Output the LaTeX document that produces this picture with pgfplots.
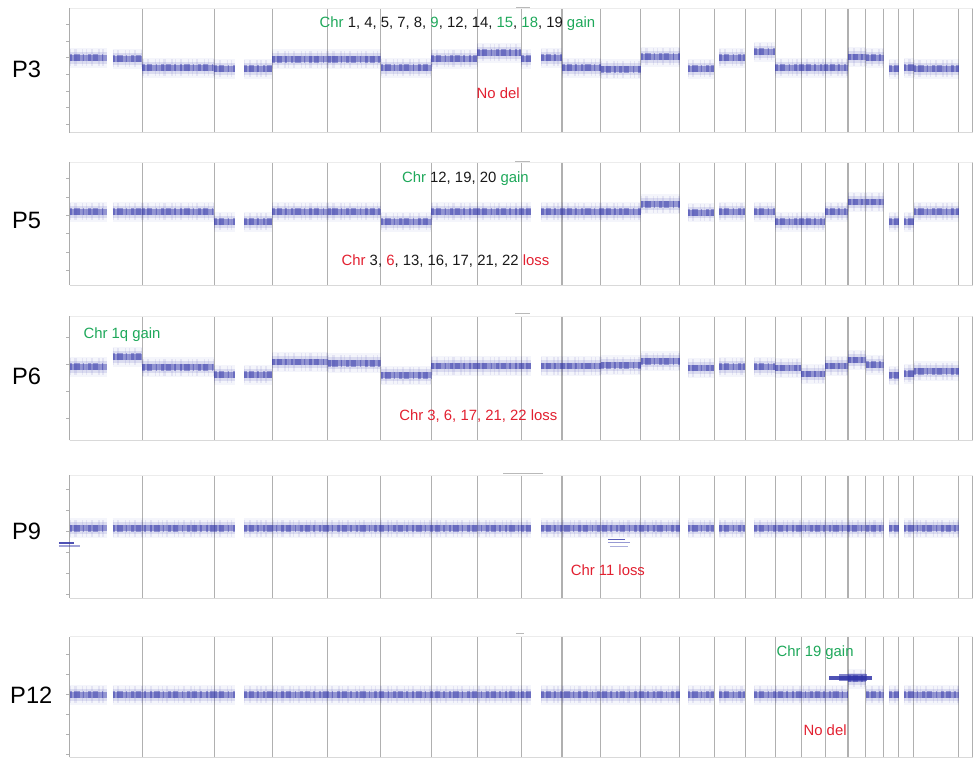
\documentclass[border=0pt]{standalone}
\usepackage{fontspec}
\setmainfont{Liberation Sans}
\usepackage{pgfplots}
\pgfplotsset{compat=1.18}
\usepackage{pgfplotstable}
\definecolor{cnv}{RGB}{48,52,168}
\definecolor{gn}{RGB}{30,168,90}
\definecolor{rd}{RGB}{226,32,48}
\definecolor{tx}{RGB}{25,25,25}

% segment tables: x (relative genome position), y (log ratio level); nan = gap
\pgfplotstableread{
x y
0 0.0
37 0.0
nan nan
43 -0.05
73 -0.05
nan nan
73 -0.6
145 -0.6
nan nan
145 -0.65
166 -0.65
nan nan
175 -0.65
203 -0.65
nan nan
203 -0.1
259 -0.1
nan nan
259 -0.1
312 -0.1
nan nan
312 -0.6
363 -0.6
nan nan
363 -0.05
409 -0.05
nan nan
409 0.3
453 0.3
nan nan
453 -0.05
463 -0.05
nan nan
473 0.0
494 0.0
nan nan
494 -0.6
533 -0.6
nan nan
533 -0.7
573 -0.7
nan nan
573 0.06
612 0.06
nan nan
620 -0.65
647 -0.65
nan nan
652 0.0
678 0.0
nan nan
687 0.36
708 0.36
nan nan
708 -0.6
734 -0.6
nan nan
734 -0.6
758 -0.6
nan nan
758 -0.6
781 -0.6
nan nan
781 0.05
799 0.05
nan nan
799 0.0
817 0.0
nan nan
822 -0.65
832 -0.65
nan nan
837 -0.6
847 -0.6
nan nan
847 -0.65
892 -0.65
}\Pthree

\pgfplotstableread{
x y
0 0.2
37 0.2
nan nan
43 0.2
73 0.2
nan nan
73 0.2
145 0.2
nan nan
145 -0.35
166 -0.35
nan nan
175 -0.35
203 -0.35
nan nan
203 0.2
259 0.2
nan nan
259 0.2
312 0.2
nan nan
312 -0.35
363 -0.35
nan nan
363 0.2
409 0.2
nan nan
409 0.2
453 0.2
nan nan
453 0.2
463 0.2
nan nan
473 0.2
494 0.2
nan nan
494 0.2
533 0.2
nan nan
533 0.2
573 0.2
nan nan
573 0.6
612 0.6
nan nan
620 0.15
647 0.15
nan nan
652 0.2
678 0.2
nan nan
687 0.2
708 0.2
nan nan
708 -0.35
734 -0.35
nan nan
734 -0.35
758 -0.35
nan nan
758 0.2
781 0.2
nan nan
781 0.72
799 0.72
nan nan
799 0.72
817 0.72
nan nan
822 -0.35
832 -0.35
nan nan
837 -0.35
847 -0.35
nan nan
847 0.2
892 0.2
}\Pfive

\pgfplotstableread{
x y
0 -0.07
37 -0.07
nan nan
43 0.3
73 0.3
nan nan
73 -0.1
145 -0.1
nan nan
145 -0.37
166 -0.37
nan nan
175 -0.37
203 -0.37
nan nan
203 0.1
259 0.1
nan nan
259 0.05
312 0.05
nan nan
312 -0.4
363 -0.4
nan nan
363 -0.05
409 -0.05
nan nan
409 -0.05
453 -0.05
nan nan
453 -0.05
463 -0.05
nan nan
473 -0.05
494 -0.05
nan nan
494 -0.05
533 -0.05
nan nan
533 -0.02
573 -0.02
nan nan
573 0.12
612 0.12
nan nan
620 -0.12
647 -0.12
nan nan
652 -0.07
678 -0.07
nan nan
687 -0.07
708 -0.07
nan nan
708 -0.12
734 -0.12
nan nan
734 -0.35
758 -0.35
nan nan
758 -0.05
781 -0.05
nan nan
781 0.17
799 0.17
nan nan
799 0.0
817 0.0
nan nan
822 -0.4
832 -0.4
nan nan
837 -0.33
847 -0.33
nan nan
847 -0.25
892 -0.25
}\Psix

\pgfplotstableread{
x y
0 0.14
37 0.14
nan nan
43 0.14
145 0.14
nan nan
145 0.14
166 0.14
nan nan
175 0.14
453 0.14
nan nan
453 0.14
463 0.14
nan nan
473 0.14
612 0.14
nan nan
620 0.14
647 0.14
nan nan
652 0.14
678 0.14
nan nan
687 0.14
817 0.14
nan nan
822 0.14
832 0.14
nan nan
837 0.14
892 0.14
}\Pnine

\pgfplotstableread{
x y
0 0.0
37 0.0
nan nan
43 0.0
145 0.0
nan nan
145 0.0
166 0.0
nan nan
175 0.0
453 0.0
nan nan
453 0.0
463 0.0
nan nan
473 0.0
612 0.0
nan nan
620 0.0
647 0.0
nan nan
652 0.0
678 0.0
nan nan
687 0.0
781 0.0
nan nan
781 0.8
799 0.8
nan nan
799 0.0
817 0.0
nan nan
822 0.0
832 0.0
nan nan
837 0.0
892 0.0
}\Ptwelve

\pgfplotsset{
 panel/.style={
  scale only axis, width=679.5pt, xmin=0, xmax=906, anchor=north west,
  axis x line*=bottom, axis y line*=left,
  axis line style={-},
  x axis line style={draw=gray!30, line width=0.6pt},
  y axis line style={draw=gray!65, line width=0.85pt},
  xtick={0,73,145,203,259,312,363,409,453,494,533,573,612,647,678,708,734,758,781,799,817,832,847,892,906},
  xticklabels={}, xtick style={draw=none},
  xmajorgrids, major grid style={draw=gray!62, line width=0.8pt},
  yticklabels={}, ytick style={draw=gray!60, line width=0.5pt},
  tick align=outside, major tick length=2.5pt,
  unbounded coords=jump,
 },
 halo/.style={draw=cnv, line width=15pt, opacity=0.05},
 mid/.style={draw=cnv, line width=9pt, opacity=0.13},
 spikes/.style={draw=cnv, line width=13pt, opacity=0.09, dash pattern=on 0.8pt off 2.7pt on 1.6pt off 4.2pt on 1pt off 2pt},
 core/.style={draw=cnv, line width=4.5pt, opacity=0.42},
 clump/.style={draw=cnv, line width=5pt, opacity=0.42, dash pattern=on 2pt off 1.5pt on 4pt off 2.5pt on 1pt off 3pt},
}
\newcommand{\topline}{\draw[gray!15, line width=0.5pt] (rel axis cs:0,1) -- (rel axis cs:1,1);}
\newcommand{\band}[1]{%
\addplot[halo] table {#1};
\addplot[mid] table {#1};
\addplot[spikes] table {#1};
\addplot[core] table {#1};
\addplot[clump] table {#1};
}

\begin{document}
\begin{tikzpicture}
\path (0,0) rectangle (732.75pt,-571.5pt);

\begin{axis}[panel, at={(52.5pt,-6pt)}, height=93.75pt, ymin=-4.5, ymax=3, ytick={-4,...,2}]
\topline
\band{\Pthree}
\end{axis}

\begin{axis}[panel, at={(52.5pt,-122.25pt)}, height=92.25pt, ymin=-3.8, ymax=2.88, ytick={-3,...,2}]
\topline
\band{\Pfive}
\end{axis}

\begin{axis}[panel, at={(52.5pt,-237.75pt)}, height=93.75pt, ymin=-2.81, ymax=1.81, ytick={-2,...,1}]
\topline
\band{\Psix}
\end{axis}

\begin{axis}[panel, at={(52.5pt,-357.75pt)}, height=92.25pt, ymin=-3.19, ymax=2.67, ytick={-3,...,2}, clip=false]
\topline
\band{\Pnine}
% small segment artefacts
\addplot[draw=cnv, line width=1.6pt, opacity=0.85] coordinates {(-11,-0.57) (4,-0.57)};
\addplot[draw=cnv, line width=1pt, opacity=0.45] coordinates {(-11,-0.71) (10,-0.71)};
\addplot[draw=cnv, line width=1.4pt, opacity=0.8] coordinates {(540,-0.4) (557,-0.4)};
\addplot[draw=cnv, line width=1pt, opacity=0.5] coordinates {(540,-0.55) (562,-0.55)};
\addplot[draw=cnv, line width=0.8pt, opacity=0.4] coordinates {(542,-0.72) (560,-0.72)};
\end{axis}

\begin{axis}[panel, at={(52.5pt,-479.25pt)}, height=90.75pt, ymin=-3.15, ymax=2.9, ytick={-3,...,2}]
\topline
\band{\Ptwelve}
\addplot[draw=cnv, line width=3pt, opacity=0.85] coordinates {(762,0.85) (805,0.85)};
\addplot[draw=cnv, line width=5.5pt, opacity=0.6] coordinates {(772,0.85) (800,0.85)};
\end{axis}

\begin{scope}[x=0.75pt,y=-0.75pt]
% tiny top marks
\draw[gray!55, line width=0.7pt] (518,7) -- (532,7);
\draw[gray!55, line width=0.7pt] (517,162) -- (532,162);
\draw[gray!55, line width=0.7pt] (517,315) -- (532,315);
\draw[gray!55, line width=0.7pt] (505,475) -- (545,475);
\draw[gray!55, line width=0.7pt] (518,636) -- (526,636);
% panel labels
\begin{scope}[every node/.style={anchor=base west, inner sep=0pt, font=\fontsize{17.8}{20}\selectfont, text=black}]
\node at (12,78) {P3};
\node at (12,229) {P5};
\node at (12,386) {P6};
\node at (12,541) {P9};
\node at (10,706) {P12};
\end{scope}
% annotations
\begin{scope}[every node/.style={anchor=base, inner sep=0pt, font=\fontsize{11.2}{13}\selectfont}]
\node at (459,27.4) {\textcolor{gn}{Chr} \textcolor{tx}{1, 4, 5, 7, 8,} \textcolor{gn}{9}\textcolor{tx}{, 12, 14,} \textcolor{gn}{15}\textcolor{tx}{,} \textcolor{gn}{18}\textcolor{tx}{, 19} \textcolor{gn}{gain}};
\node[text=rd] at (500,98.4) {No del};
\node at (467,183.4) {\textcolor{gn}{Chr} \textcolor{tx}{12, 19, 20} \textcolor{gn}{gain}};
\node at (447,266.4) {\textcolor{rd}{Chr} \textcolor{tx}{3,} \textcolor{rd}{6}\textcolor{tx}{, 13, 16, 17, 21, 22} \textcolor{rd}{loss}};
\node[text=gn] at (122.5,339.4) {Chr 1q gain};
\node[text=rd] at (480,422.4) {Chr 3, 6, 17, 21, 22 loss};
\node[text=rd] at (610,577.4) {Chr 11 loss};
\node[text=gn] at (818,658.4) {Chr 19 gain};
\node[text=rd] at (828,738.4) {No del};
\end{scope}
\end{scope}
\end{tikzpicture}
\end{document}
